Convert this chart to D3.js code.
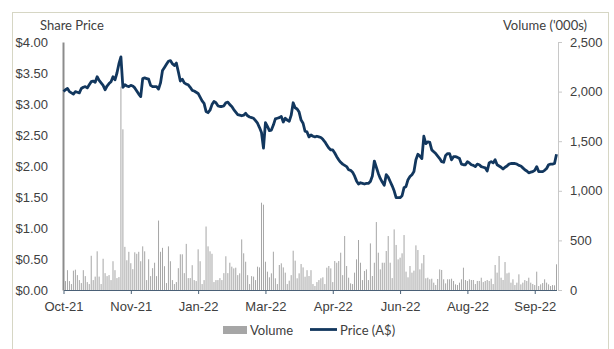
<!DOCTYPE html>
<html><head><meta charset="utf-8">
<script src="https://cdn.jsdelivr.net/npm/d3@7"></script>
<style>
html,body{margin:0;padding:0;background:#fff;}
svg{display:block;font-family:Lato,"Open Sans",sans-serif;}
</style></head>
<body>
<svg id="chart" width="614" height="349"></svg>
<script>
const xLabels = ["Oct-21","Nov-21","Jan-22","Mar-22","Apr-22","Jun-22","Aug-22","Sep-22"];
const priceTicks = [0,0.5,1,1.5,2,2.5,3,3.5,4];
const volTicks = [0,500,1000,1500,2000,2500];
const price = [
3.20,3.23,3.25,3.20,3.18,3.16,3.20,3.19,3.18,3.25,
3.27,3.28,3.26,3.31,3.36,3.37,3.35,3.44,3.38,3.34,
3.30,3.23,3.29,3.33,3.36,3.44,3.39,3.50,3.65,3.76,
3.27,3.31,3.29,3.28,3.30,3.29,3.26,3.21,3.16,3.12,
3.41,3.42,3.41,3.40,3.30,3.28,3.28,3.28,3.24,3.34,
3.54,3.59,3.64,3.69,3.70,3.65,3.62,3.66,3.52,3.37,
3.40,3.34,3.32,3.31,3.27,3.22,3.21,3.19,3.17,3.11,
3.05,3.01,2.88,2.86,2.90,2.99,3.04,3.02,2.97,2.96,
2.96,2.97,3.02,3.03,2.99,2.96,2.91,2.87,2.83,2.82,
2.81,2.82,2.85,2.81,2.79,2.78,2.77,2.73,2.69,2.62,
2.54,2.29,2.70,2.64,2.57,2.58,2.66,2.76,2.77,2.78,
2.80,2.71,2.77,2.74,2.72,2.82,3.02,2.94,2.92,2.87,
2.74,2.69,2.56,2.55,2.47,2.50,2.48,2.47,2.48,2.47,
2.46,2.43,2.39,2.34,2.29,2.26,2.26,2.21,2.15,2.10,
2.06,2.03,2.01,1.99,1.94,1.93,1.90,1.84,1.76,1.71,
1.73,1.72,1.71,1.72,1.72,1.75,1.84,2.08,1.98,1.88,
1.80,1.74,1.69,1.86,1.82,1.75,1.68,1.60,1.49,1.49,
1.49,1.52,1.65,1.67,1.78,1.83,1.86,1.91,2.10,2.19,
2.16,2.12,2.48,2.36,2.39,2.38,2.26,2.23,2.20,2.16,
2.12,2.07,2.06,2.17,2.20,2.20,2.10,2.15,2.15,2.14,
2.12,2.03,2.02,2.02,2.07,2.05,2.02,2.01,1.99,2.03,
2.02,1.99,1.98,1.97,1.92,2.05,2.07,2.05,2.10,2.02,
2.00,1.98,1.95,1.98,2.00,2.03,2.04,2.04,2.04,2.03,
2.01,2.00,1.97,1.94,1.92,1.89,1.90,1.91,1.93,1.99,
1.91,1.91,1.91,1.93,1.96,2.02,2.03,2.03,2.04,2.19
];
const volume = [
120,90,200,90,60,195,205,150,100,70,
200,140,80,60,345,100,135,390,135,60,
315,170,140,150,100,290,200,120,130,2050,
1620,435,300,385,270,210,380,365,385,290,
440,390,100,310,140,220,275,140,700,385,
425,240,70,440,290,100,60,80,220,360,
360,170,465,120,120,250,100,90,410,290,
60,100,640,440,390,365,80,100,100,120,
100,170,340,170,275,235,218,225,150,168,
510,370,285,150,60,140,135,100,235,228,
880,860,285,185,128,168,386,118,60,252,
269,228,175,60,94,150,396,296,118,168,
262,228,134,200,141,200,60,40,80,100,
118,128,60,225,242,218,80,292,275,292,
376,150,544,242,124,67,60,175,309,504,
275,100,192,208,100,470,141,275,685,376,
208,275,275,393,544,275,120,611,454,309,
326,370,554,185,128,242,175,195,450,403,
208,269,353,118,124,108,114,74,50,111,
208,202,108,67,108,108,114,91,57,50,
74,108,225,101,91,108,101,101,60,91,
91,124,80,91,101,91,114,60,252,175,
343,124,101,282,168,175,74,108,50,74,
158,57,74,100,91,124,74,60,50,185,
40,57,70,108,74,57,40,50,47,259
];

const svg = d3.select("#chart");
const N = price.length;
const x = d3.scaleLinear().domain([0, N-1]).range([63.5, 556.5]);
const yP = d3.scaleLinear().domain([0, 4]).range([290, 42]);
const yV = d3.scaleLinear().domain([0, 2500]).range([290, 42]);
const textColor = "#404040";

// frame
svg.append("rect").attr("x",12.5).attr("y",12.5).attr("width",596).attr("height",345)
  .attr("fill","none").attr("stroke","#d6d6c4").attr("stroke-width",1);

// volume bars
svg.append("g").selectAll("rect").data(volume).join("rect")
  .attr("x",(d,i)=>x(i)-0.5).attr("width",1)
  .attr("y",d=>yV(d)).attr("height",d=>yV(0)-yV(d))
  .attr("fill","#a6a6a6");

// x axis
const tickIdx = xLabels.map((_,i)=>i*34);
const gx = svg.append("g").attr("transform","translate(0,290)")
  .call(d3.axisBottom(x).tickValues(tickIdx).tickFormat((d,i)=>xLabels[i]).tickSize(4).tickSizeOuter(0).tickPadding(8));
gx.select(".domain").attr("stroke","#4a6076").attr("stroke-width",1.2);
gx.selectAll(".tick line").attr("stroke","#4a6076");
gx.selectAll("text").attr("fill",textColor).style("font-size","13px");

// left axis
const gl = svg.append("g").attr("transform","translate(63,0)")
  .call(d3.axisLeft(yP).tickValues(priceTicks).tickFormat(d=>"$"+d.toFixed(2)).tickSize(0).tickSizeOuter(0).tickPadding(15));
gl.select(".domain").attr("stroke","#8c8c8c").attr("stroke-width",2);
gl.selectAll("text").attr("fill",textColor).style("font-size","13px");

// right axis
const gr = svg.append("g").attr("transform","translate(558,0)")
  .call(d3.axisRight(yV).tickValues(volTicks).tickFormat(d3.format(",")).tickSize(4).tickSizeOuter(0).tickPadding(8));
gr.select(".domain").attr("stroke","#c8c8c8").attr("stroke-width",1);
gr.selectAll(".tick line").attr("stroke","#c8c8c8");
gr.selectAll("text").attr("fill",textColor).style("font-size","13px");

// price line
svg.append("path").datum(price)
  .attr("d", d3.line().x((d,i)=>x(i)).y(d=>yP(d)))
  .attr("fill","none").attr("stroke","#12375e").attr("stroke-width",2.8)
  .attr("stroke-linejoin","round");

// axis titles
svg.append("text").attr("x",40).attr("y",30).text("Share Price")
  .attr("fill",textColor).style("font-size","13px");
svg.append("text").attr("x",587).attr("y",30).attr("text-anchor","end").text("Volume ('000s)")
  .attr("fill",textColor).style("font-size","13px");

// legend
const lg = svg.append("g");
lg.append("rect").attr("x",223).attr("y",326).attr("width",24).attr("height",8).attr("fill","#a6a6a6");
lg.append("text").attr("x",250).attr("y",334.5).text("Volume").attr("fill",textColor).style("font-size","13px");
lg.append("line").attr("x1",310).attr("x2",337).attr("y1",329.5).attr("y2",329.5)
  .attr("stroke","#12375e").attr("stroke-width",2.8);
lg.append("text").attr("x",340).attr("y",334.5).text("Price (A$)").attr("fill",textColor).style("font-size","13px");
</script>
</body></html>
